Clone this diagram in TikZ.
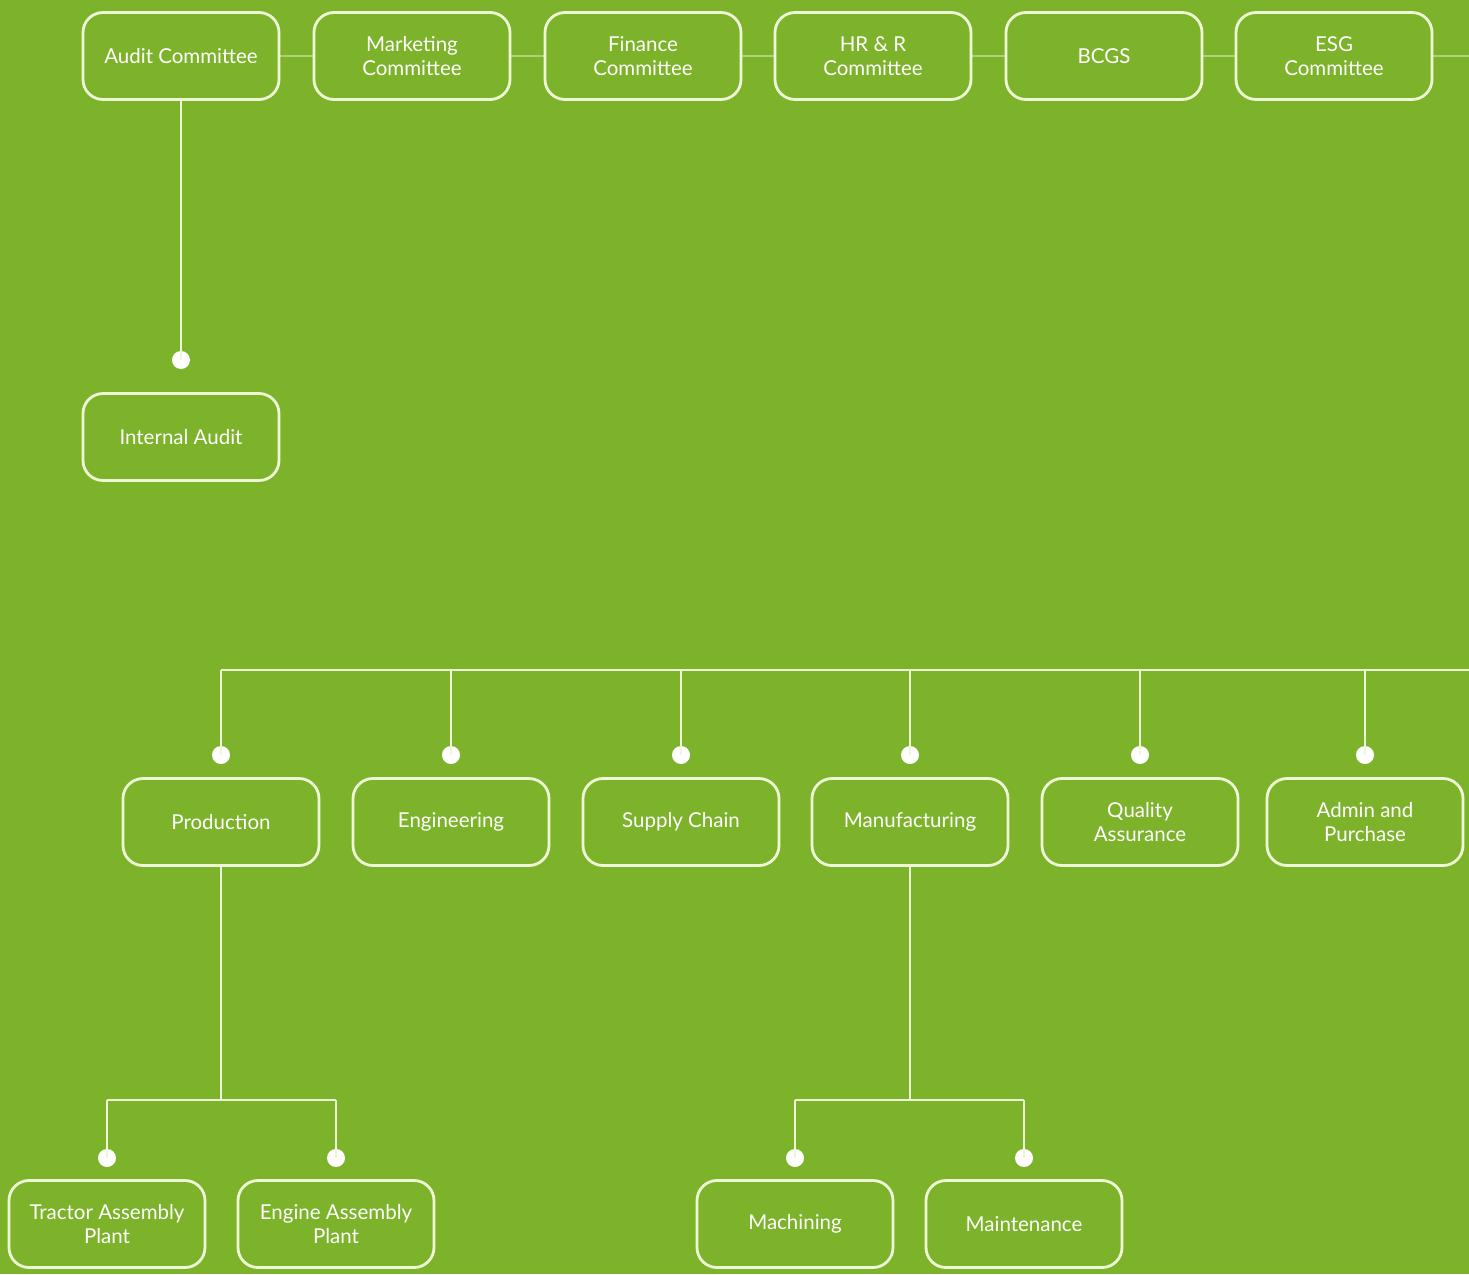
\documentclass[tikz,border=0pt]{standalone}
\usepackage{fontspec}
\setmainfont{Lato}
\definecolor{bg}{HTML}{7DB32A}
\definecolor{edge}{HTML}{EEF7D6}
\begin{document}
\begin{tikzpicture}[x=1pt,y=-1pt,
  box/.style={draw=edge,line width=2.8pt,rounded corners=20pt,minimum width=196pt,minimum height=87pt,
    text=white,align=center,font=\fontsize{20.5}{24}\selectfont,inner sep=0pt},
  link/.style={draw=edge,line width=1.8pt},
  faint/.style={draw=edge,line width=2pt,draw opacity=0.45},
  dot/.style={circle,fill=white,draw=none,minimum size=18pt,inner sep=0pt}]
\fill[bg] (0,0) rectangle (1469,1274);
\useasboundingbox (0,0) rectangle (1469,1274);
% top row
\node[box] (audit) at (181,56) {Audit Committee};
\node[box] (mkt) at (412,56) {Marketing\\Committee};
\node[box] (fin) at (643,56) {Finance\\Committee};
\node[box] (hr) at (873,56) {HR \& R\\Committee};
\node[box] (bcgs) at (1104,56) {BCGS};
\node[box] (esg) at (1334,56) {ESG\\Committee};
\coordinate (topright) at (1469,56);
\draw[faint] (audit.east) -- (mkt.west);
\draw[faint] (mkt.east) -- (fin.west);
\draw[faint] (fin.east) -- (hr.west);
\draw[faint] (hr.east) -- (bcgs.west);
\draw[faint] (bcgs.east) -- (esg.west);
\draw[faint] (esg.east) -- (topright);
% internal audit
\node[dot] (dia) at (181,360) {};
\node[box] (ia) at (181,437) {Internal Audit};
\draw[link] (audit.south) -- (dia.center);
% second row
\coordinate (busL) at (221,670);
\coordinate (busR) at (1469,670);
\draw[link] (busL) -- (busR);
\foreach \n/\x/\t in {prod/221/Production,eng/451/Engineering,sc/681/Supply Chain,
    man/910/Manufacturing,qa/1140/Quality\\Assurance,adm/1365/Admin and\\Purchase}{
  \node[dot] (d\n) at (\x,755) {};
  \node[box] (\n) at (\x,822) {\t};
  \coordinate (b\n) at (\x,670);
  \draw[link] (b\n) -- (d\n.center);
}
% production children
\coordinate (pj) at (221,1100);
\coordinate (pl) at (107,1100);
\coordinate (pr) at (336,1100);
\node[dot] (dtr) at (107,1158) {};
\node[dot] (den) at (336,1158) {};
\node[box] (tr) at (107,1224) {Tractor Assembly\\Plant};
\node[box] (en) at (336,1224) {Engine Assembly\\Plant};
\draw[link] (prod.south) -- (pj);
\draw[link] (pl) -- (pr);
\draw[link] (pl) -- (dtr.center);
\draw[link] (pr) -- (den.center);
% manufacturing children
\coordinate (mj) at (910,1100);
\coordinate (ml) at (795,1100);
\coordinate (mr) at (1024,1100);
\node[dot] (dma) at (795,1158) {};
\node[dot] (dmt) at (1024,1158) {};
\node[box] (mach) at (795,1224) {Machining};
\node[box] (maint) at (1024,1224) {Maintenance};
\draw[link] (man.south) -- (mj);
\draw[link] (ml) -- (mr);
\draw[link] (ml) -- (dma.center);
\draw[link] (mr) -- (dmt.center);
\end{tikzpicture}
\end{document}
